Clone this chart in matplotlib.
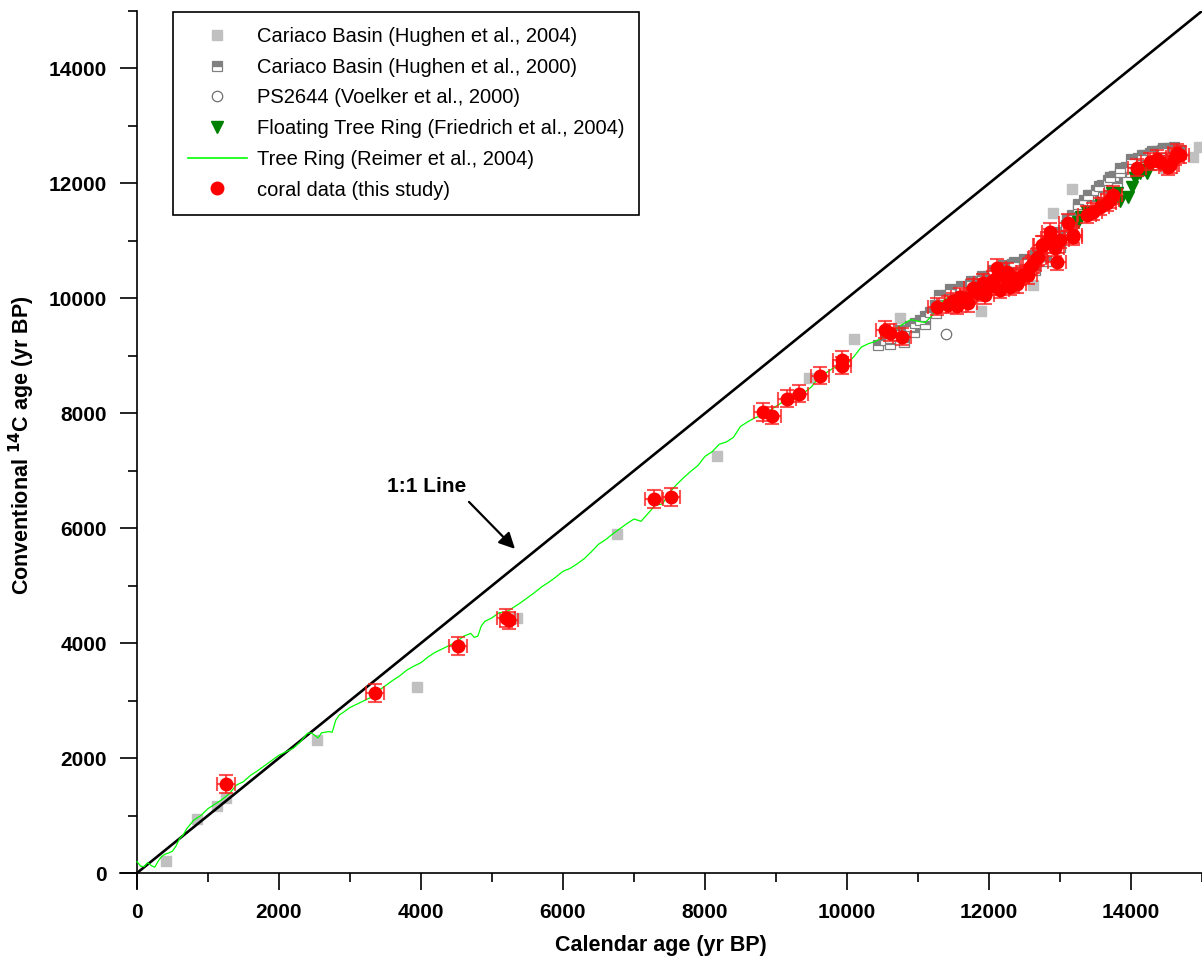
import numpy as np
import matplotlib
matplotlib.use("Agg")
import matplotlib.pyplot as plt
from matplotlib.lines import Line2D
from matplotlib.ticker import MultipleLocator

plt.rcParams['font.family'] = ['Liberation Sans', 'DejaVu Sans']

# Tree ring calibration curve (Reimer et al., 2004), cal yr BP vs 14C yr BP
tree_cal = [0, 50, 100, 150, 200, 250, 300, 350, 400, 450, 500, 550, 600, 650, 700,
            800, 900, 1000, 1100, 1200, 1300, 1400, 1500, 1600, 1700, 1800, 1900, 2000,
            2100, 2200, 2300, 2400, 2450, 2500, 2550, 2600, 2700, 2750, 2800, 2850, 2900,
            3000, 3100, 3200, 3300, 3400, 3500, 3600, 3700, 3800, 3900, 4000, 4100, 4200,
            4300, 4400, 4500, 4600, 4700, 4750, 4800, 4850, 4900, 5000, 5100, 5200, 5300,
            5400, 5500, 5600, 5700, 5800, 5900, 6000, 6100, 6200, 6300, 6400, 6500, 6600,
            6700, 6800, 6900, 7000, 7100, 7200, 7300, 7400, 7500, 7600, 7700, 7800, 7900,
            8000, 8100, 8200, 8300, 8400, 8500, 8600, 8700, 8800, 8900, 9000, 9100, 9200,
            9300, 9400, 9500, 9600, 9700, 9800, 9900, 10000, 10100, 10200, 10300, 10400,
            10500, 10600, 10700, 10800, 10900, 11000, 11100, 11200, 11300, 11400, 11500,
            11600, 11700, 11800, 11900, 12000, 12100, 12200, 12300, 12400]
tree_c14 = [200, 120, 110, 180, 130, 100, 210, 290, 330, 350, 380, 470, 600, 660, 770,
            920, 1000, 1120, 1200, 1280, 1380, 1530, 1590, 1700, 1780, 1870, 1960, 2050,
            2110, 2170, 2280, 2430, 2440, 2400, 2350, 2440, 2460, 2450, 2660, 2750, 2790,
            2880, 2940, 3000, 3060, 3170, 3260, 3350, 3430, 3530, 3600, 3660, 3760, 3840,
            3900, 3960, 4020, 4120, 4170, 4100, 4120, 4300, 4380, 4440, 4530, 4540, 4620,
            4700, 4790, 4880, 4980, 5060, 5150, 5250, 5300, 5380, 5470, 5590, 5720, 5800,
            5900, 5990, 6080, 6160, 6120, 6260, 6400, 6420, 6620, 6760, 6880, 6990, 7090,
            7250, 7330, 7460, 7500, 7580, 7770, 7850, 7920, 7960, 8040, 8120, 8200, 8260,
            8300, 8360, 8460, 8620, 8700, 8780, 8830, 8860, 8990, 9150, 9210, 9250,
            9320, 9350, 9480, 9560, 9630, 9600, 9580, 9700, 9900, 10000, 10020,
            10060, 10090, 10170, 10210, 10240, 10270, 10350, 10400, 10420]

# Cariaco Basin (Hughen et al., 2004)
car04_cal = [408, 845, 1127, 1254, 2535, 3944, 5352, 6761, 8169, 9465, 10099, 10746,
             11887, 12620, 12902, 13169, 13704, 14479, 14873, 14958]
car04_c14 = [209, 940, 1166, 1305, 2315, 3238, 4438, 5901, 7258, 8616, 9295, 9650,
             9782, 10240, 11490, 11908, 12117, 12274, 12466, 12640]

# Cariaco Basin (Hughen et al., 2000)
car00_cal = [10437, 10535, 10606, 10676, 10746, 10817, 10887, 10958, 11028, 11099, 11169,
             11239, 11310, 11395, 11479, 11564, 11648, 11733, 11817, 11902, 11986, 12071,
             12155, 12240, 12324, 12409, 12493, 12578, 12662, 12747, 12831, 12916, 13000,
             13085, 13169, 13254, 13338, 13423, 13507, 13592, 13677, 13761, 13846, 13930,
             14014, 14099, 14183, 14268, 14352, 14437, 14521, 14606, 14690,
             10600, 10800, 10950, 11100, 11250, 11900, 12300, 12650, 12800, 13000, 13150,
             13300, 13450, 13600, 13800, 14000, 14200,
             11300, 11450, 11600, 11750, 11900, 12050, 12200, 12350, 12500, 12650, 12800,
             12950, 13100, 13250, 13400, 13550, 13700, 13850, 14000, 14150, 14300, 14450]
car00_c14 = [9192, 9279, 9314, 9366, 9453, 9453, 9523, 9575, 9628, 9697, 9767,
             9889, 10011, 10063, 10115, 10150, 10202, 10254, 10307, 10342, 10394, 10463,
             10533, 10568, 10603, 10620, 10638, 10655, 10707, 10777, 10899, 11021, 11142,
             11282, 11456, 11595, 11717, 11804, 11891, 11978, 12065, 12135, 12205, 12292,
             12379, 12448, 12500, 12535, 12570, 12587, 12622, 12640, 12587,
             9200, 9240, 9420, 9560, 9750, 10200, 10450, 10500, 10650, 10900, 11250,
             11520, 11700, 11850, 12000, 12200, 12380,
             10060, 10160, 10220, 10300, 10380, 10500, 10580, 10640, 10680, 10750, 10950,
             11150, 11380, 11650, 11800, 11960, 12120, 12260, 12420, 12500, 12570, 12610]

# PS2644 (Voelker et al., 2000)
ps_cal = [11394]
ps_c14 = [9382]

# Floating Tree Ring (Friedrich et al., 2004)
ftr_cal = [13254, 13300, 13380, 13577, 13704, 13733, 13803, 13845, 13958, 14014,
           14056, 14127, 14169, 14225]
ftr_c14 = [11332, 11420, 11506, 11628, 11680, 11836, 11836, 11700, 11766, 11940,
           12097, 12184, 12236, 12184]

# coral data (this study)
coral_cal = [1253, 3352, 4521, 5197, 5240, 7282, 7521, 8817, 8944, 9155, 9324, 9620,
             9930, 9935, 10535, 10606, 10775, 11268, 11423, 11500, 11592, 11680, 11775,
             11850, 11916, 12000, 12056, 12113, 12180, 12254, 12260, 12350, 12437, 12479,
             12578, 12606, 12676, 12690, 12746, 12760, 12859, 12865, 12929, 12958, 13000,
             13113, 13183, 13190, 13380, 13465, 13563, 13662, 13704, 13750, 14084, 14268,
             14366, 14408, 14521, 14549, 14620, 14648, 14690,
             11550, 11700, 11950, 12150, 12300, 12400, 12550]
coral_c14 = [1549, 3133, 3951, 4438, 4400, 6510, 6545, 8024, 7955, 8251, 8338, 8651,
             8825, 8930, 9453, 9399, 9330, 9852, 9887, 9950, 10026, 10000, 10183,
             10100, 10270, 10200, 10322, 10531, 10400, 10322, 10461, 10350, 10374, 10409,
             10548, 10583, 10705, 10722, 10931, 10931, 11053, 11157, 10879, 10635, 11018,
             11314, 11105, 11070, 11453, 11506, 11592, 11662, 11714, 11800, 12271, 12375,
             12428, 12375, 12289, 12323, 12462, 12532, 12497,
             9870, 9920, 10050, 10150, 10200, 10250, 10400]
coral_xerr = 125
coral_yerr = 150

fig = plt.figure(figsize=(12.02, 9.58), dpi=100)
ax = fig.add_axes([120 / 1202, 70 / 958, 1082 / 1202, 877 / 958])

ax.plot([0, 15000], [0, 15000], color='black', lw=1.9, zorder=3)
ax.plot(car04_cal, car04_c14, ls='none', marker='s', ms=7.5, mfc='#c0c0c0',
        mec='#c0c0c0', zorder=1)
ax.plot(car00_cal, car00_c14, ls='none', marker='s', ms=6.5, fillstyle='top',
        mfc='#808080', mfcalt='white', mec='#808080', mew=0.9, zorder=2)
ax.plot(ps_cal, ps_c14, ls='none', marker='o', ms=7.5, mfc='white', mec='#707070',
        mew=0.9, zorder=2)
ax.plot(tree_cal, tree_c14, color='#00ff00', lw=0.9, zorder=4)
ax.plot(ftr_cal, ftr_c14, ls='none', marker='v', ms=9, color='#008000', zorder=5)
ax.errorbar(coral_cal, coral_c14, xerr=coral_xerr, yerr=coral_yerr, fmt='o', ms=9,
            mfc='red', mec='red', ecolor=(1, 0.1, 0.1, 0.75), elinewidth=1.5,
            capsize=5, capthick=1.5, zorder=6)

ax.text(4634, 6719, '1:1 Line', ha='right', va='center', fontsize=15,
        fontweight='bold')
ax.annotate('', xy=(5324, 5640), xytext=(4676, 6458),
            arrowprops=dict(arrowstyle='-|>', color='black', lw=1.6,
                            mutation_scale=24, shrinkA=0, shrinkB=0))

ax.set_xlim(-239, 15000)
ax.set_ylim(-261, 15000)
ax.spines['left'].set_position(('data', 0))
ax.spines['bottom'].set_position(('data', 0))
ax.spines['top'].set_visible(False)
ax.spines['right'].set_visible(False)
for s in ('left', 'bottom'):
    ax.spines[s].set_linewidth(1.2)

ax.xaxis.set_major_locator(MultipleLocator(2000))
ax.xaxis.set_minor_locator(MultipleLocator(1000))
ax.yaxis.set_major_locator(MultipleLocator(2000))
ax.yaxis.set_minor_locator(MultipleLocator(1000))
ax.tick_params(which='major', direction='out', length=12.5, width=1.2,
               labelsize=15, pad=9)
ax.tick_params(which='minor', direction='out', length=6.5, width=1.2)
for lab in ax.get_xticklabels() + ax.get_yticklabels():
    lab.set_fontweight('bold')

fig.text(661 / 1202, 1 - 945 / 958, 'Calendar age (yr BP)', ha='center', va='center',
         fontsize=15.5, fontweight='bold')
fig.text(22 / 1202, 1 - 445 / 958, 'Conventional $^{\\mathbf{14}}$C age (yr BP)',
         rotation=90, ha='center', va='center', fontsize=15.5, fontweight='bold')

handles = [
    Line2D([], [], ls='none', marker='s', ms=7.5, mfc='#c0c0c0', mec='#c0c0c0'),
    Line2D([], [], ls='none', marker='s', ms=6.5, fillstyle='top', mfc='#808080',
           mfcalt='white', mec='#808080', mew=0.9),
    Line2D([], [], ls='none', marker='o', ms=7.5, mfc='white', mec='#707070', mew=0.9),
    Line2D([], [], ls='none', marker='v', ms=9, color='#008000'),
    Line2D([], [], color='#00ff00', lw=1.2),
    Line2D([], [], ls='none', marker='o', ms=9, color='red'),
]
labels = ['Cariaco Basin (Hughen et al., 2004)', 'Cariaco Basin (Hughen et al., 2000)',
          'PS2644 (Voelker et al., 2000)', 'Floating Tree Ring (Friedrich et al., 2004)',
          'Tree Ring (Reimer et al., 2004)', 'coral data (this study)']
leg = ax.legend(handles, labels, loc='upper left',
                bbox_to_anchor=(173 / 1202, 1 - 12 / 958), bbox_transform=fig.transFigure,
                borderaxespad=0, fontsize=14.5, frameon=True, fancybox=False,
                edgecolor='black', framealpha=1, handlelength=2.9, handletextpad=0.5,
                labelspacing=0.58, borderpad=0.75)
leg.get_frame().set_linewidth(1.2)

fig.savefig('out.png', dpi=100)
